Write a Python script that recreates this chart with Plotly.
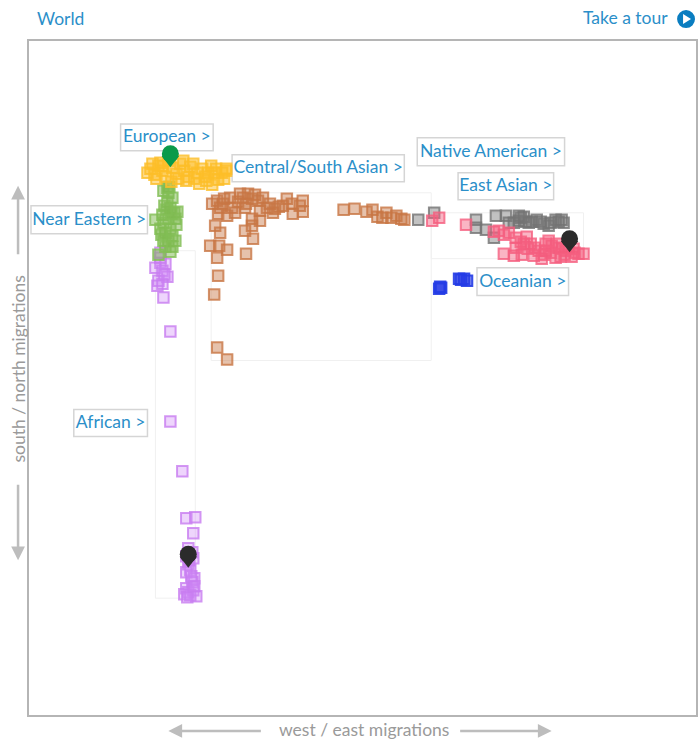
import plotly.graph_objects as go

# Axis units: no scale is printed on the chart, so values are read as positions
# along west-east and along north-south (larger = further south).
european_x = [150,158,147,154,162,160,168,172,176,165,180,184,190,188,194,197,202,206,211,214,199,218,222,212,205,226,224,193,183,156,226,171,178,152,163,186,208,216]
european_y = [168,165,172,174,170,162,160,167,173,176,163,170,166,176,178,172,168,180,165,172,183,179,172,184,176,168,178,163,160,178,170,181,178,163,165,180,172,168]
near_eastern_x = [169,168,163,172,167,170,164,174,162,177,155,168,163,175,170,165,160,172,168,163,175,158,170,165,172,167,171,166,176,161]
near_eastern_y = [186,192,190,197,201,207,205,212,214,211,219,218,222,218,228,232,228,235,240,240,240,254,251,246,246,187,213,209,224,234]
african_x = [160,160,155,165,162,167,158,157,162,163,170,170,182,186,195,193,188,192,186,193,188,190,186,194,192,186,188,193,184,190,196,187,194,160,164,189,191]
african_y = [252,262,267,263,270,276,280,285,283,297,331,421,471,518,517,533,548,552,556,558,564,570,572,578,582,588,592,590,594,595,596,597,586,257,274,560,576]
central_south_x = [212,217,223,218,227,220,235,240,248,243,252,245,258,263,267,260,252,260,275,273,287,292,283,293,303,303,300,215,220,245,252,253,210,219,227,217,246,218,214,217,227,344,355,367,373,378,387,392,397,405,383,402,230,238,246,255,270,279,224,232]
central_south_y = [203,200,203,213,215,207,212,193,193,197,198,207,200,197,207,210,218,220,208,212,198,203,205,213,200,211,205,225,232,230,225,238,245,245,249,257,253,275,294,347,359,209,208,211,209,216,212,217,215,219,217,218,197,201,203,194,203,206,198,207]
native_american_x = [419,435,477,477,487,495,497,507,510,520,527,522,538,533,545,550,557,565,560,520,525,515,530,542,552,563]
native_american_y = [219,212,219,227,229,237,215,215,222,220,221,217,219,221,223,225,219,222,221,215,216,222,222,221,222,219]
east_asian_x = [440,433,467,495,505,517,528,525,532,536,547,553,505,515,523,535,543,547,562,573,585,580,567,560,570,557,517,500,510,522,540,552,566,576,529,545,564,558,575,550]
east_asian_y = [217,220,224,231,234,237,236,243,243,247,243,245,253,255,254,255,258,250,256,256,253,253,250,247,247,257,247,230,232,241,250,252,254,252,248,254,248,243,248,240]
oceanian_x = [442,440,460,465,468,441,462]
oceanian_y = [287,288,278,278,280,286,279]
highlight_x = [170,571,188]
highlight_y = [153,238,554]
highlight_colors = ["#0a9a4a","#2b2b2b","#2b2b2b"]

series = [
    ("African", african_x, african_y, "rgba(205,135,245,0.35)", "rgba(200,125,240,0.8)"),
    ("Near Eastern", near_eastern_x, near_eastern_y, "rgba(125,185,80,0.5)", "rgba(130,190,85,0.8)"),
    ("European", european_x, european_y, "rgba(253,190,40,0.5)", "rgba(253,190,40,0.8)"),
    ("Central/South Asian", central_south_x, central_south_y, "rgba(200,120,70,0.45)", "rgba(200,118,68,0.8)"),
    ("Native American", native_american_x, native_american_y, "rgba(120,120,120,0.45)", "rgba(115,115,115,0.8)"),
    ("East Asian", east_asian_x, east_asian_y, "rgba(245,90,125,0.45)", "rgba(245,95,128,0.8)"),
    ("Oceanian", oceanian_x, oceanian_y, "rgba(40,60,230,0.55)", "rgba(35,60,230,0.9)"),
]

label_texts = ["European >", "Central/South Asian >", "Native American >", "East Asian >",
               "Near Eastern >", "Oceanian >", "African >"]
label_left = [120, 232, 418, 459, 30, 478, 73]
label_right = [213, 405, 566, 555, 147, 570, 147]
label_top = [123, 154, 137, 172, 205, 267, 409]
label_bottom = [150, 181, 165, 199, 233, 295, 436]

BLUE = "#2b8fc9"
GREY = "#9a9a9a"
FONT = "Lato, 'Open Sans', sans-serif"
X0, X1, Y0, Y1 = 28, 698, 715, 40


def px(x):
    return (x - X0) / (X1 - X0)


def py(y):
    return (Y0 - y) / (Y0 - Y1)


fig = go.Figure()

for x0, y0, x1, y1 in [(211,192,432,360),(155,250,195,598),(432,212,585,258)]:
    fig.add_shape(type="rect", x0=x0, y0=y0, x1=x1, y1=y1, layer="below",
                  line=dict(color="#f0f0f0", width=1))
for l, r, t, b in zip(label_left, label_right, label_top, label_bottom):
    fig.add_shape(type="rect", x0=l, x1=r, y0=t, y1=b, layer="below",
                  fillcolor="white", line=dict(color="#d5d5d5", width=1.5))

for name, x, y, fill, edge in series:
    fig.add_trace(go.Scatter(x=x, y=y, mode="markers", name=name, showlegend=False,
                             marker=dict(symbol="square", size=10.5, color=fill,
                                         line=dict(color=edge, width=2))))

fig.add_trace(go.Scatter(
    x=[(l + r) / 2 for l, r in zip(label_left, label_right)],
    y=[(t + b) / 2 + 0.5 for t, b in zip(label_top, label_bottom)],
    text=label_texts, mode="text", textposition="middle center", showlegend=False,
    textfont=dict(family=FONT, size=17.5, color=BLUE)))

# Location pins: pointed tip plus round head, above the label boxes
fig.add_trace(go.Scatter(x=highlight_x, y=[v + 6 for v in highlight_y], mode="markers", showlegend=False,
                         marker=dict(symbol="triangle-down", size=15, color=highlight_colors)))
fig.add_trace(go.Scatter(x=highlight_x, y=highlight_y, mode="markers", showlegend=False,
                         marker=dict(symbol="circle", size=17, color=highlight_colors)))


def page_text(x, y, text, color, anchor="center", angle=0):
    fig.add_annotation(xref="paper", yref="paper", x=px(x), y=py(y), text=text, showarrow=False,
                       xanchor=anchor, yanchor="middle", textangle=angle,
                       font=dict(family=FONT, size=17.5, color=color))


page_text(34, 17, "World", BLUE, "left")
page_text(672, 16, "Take a tour", BLUE, "right")
page_text(365, 730, "west / east migrations", GREY)
page_text(17, 369, "south / north migrations", GREY, angle=-90)

# "Take a tour" button
fig.add_shape(type="circle", xref="paper", yref="paper", x0=px(679), x1=px(697), y0=py(27), y1=py(9),
              fillcolor="#0a7dc0", line=dict(width=0))
fig.add_shape(type="path", xref="paper", yref="paper",
              path=f"M {px(685)} {py(13)} L {px(693)} {py(18)} L {px(685)} {py(23)} Z",
              fillcolor="white", line=dict(width=0))

for hx, hy, tx, ty in [(168,731,262,731),(553,731,460,731),(17,185,17,255),(17,560,17,483)]:
    fig.add_annotation(xref="paper", yref="paper", x=px(hx), y=py(hy), ax=tx - hx, ay=ty - hy, text="",
                       showarrow=True, arrowhead=2, arrowsize=1.1, arrowwidth=2.5, arrowcolor="#bdbdbd")

axis = dict(showgrid=False, zeroline=False, showticklabels=False, ticks="",
            showline=True, linecolor="#b5b5b5", linewidth=2, mirror=True)
fig.update_layout(width=698, height=742, margin=dict(l=X0 + 1, r=0, t=Y1 + 1, b=742 - Y0),
                  paper_bgcolor="white", plot_bgcolor="white",
                  xaxis=dict(range=[X0, X1], **axis),
                  yaxis=dict(range=[Y0, Y1], **axis))
fig.write_html("out.html", config=dict(displayModeBar=False),
               post_script="document.body.style.margin='0';")
